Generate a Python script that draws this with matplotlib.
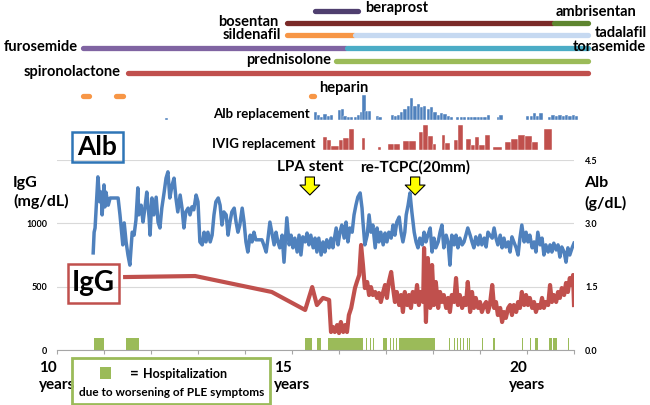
import matplotlib
matplotlib.use('Agg')
import matplotlib.pyplot as plt
import matplotlib.transforms as mtransforms
from matplotlib.patches import Rectangle

plt.rcParams['font.family'] = ['Lato', 'DejaVu Sans']
plt.rcParams['font.weight'] = 'bold'

# serum albumin (g/dL) by age (years)
alb_age = [10.77, 10.79, 10.81, 10.87, 10.91, 10.94, 10.96, 11.00, 11.02, 11.04,
           11.09, 11.13, 11.30, 11.34, 11.40, 11.43, 11.47, 11.51, 11.55, 11.60,
           11.64, 11.68, 11.72, 11.74, 11.79, 11.83, 11.87, 11.91, 11.96, 11.98,
           12.02, 12.06, 12.11, 12.15, 12.19, 12.23, 12.28, 12.32, 12.36, 12.40,
           12.45, 12.49, 12.53, 12.57, 12.62, 12.66, 12.70, 12.74, 12.79, 12.83,
           12.87, 12.91, 12.96, 13.00, 13.04, 13.09, 13.13, 13.17, 13.21, 13.26,
           13.30, 13.34, 13.38, 13.43, 13.47, 13.51, 13.55, 13.60, 13.64, 13.68,
           13.72, 13.77, 13.81, 13.85, 13.89, 13.94, 13.98, 14.02, 14.06, 14.11,
           14.15, 14.19, 14.23, 14.28, 14.36, 14.40, 14.45, 14.49, 14.53, 14.57,
           14.62, 14.66, 14.70, 14.74, 14.79, 14.83, 14.87, 14.89, 14.94, 14.98,
           15.02, 15.06, 15.11, 15.15, 15.19, 15.23, 15.28, 15.32, 15.36, 15.40,
           15.45, 15.49, 15.53, 15.57, 15.62, 15.66, 15.70, 15.74, 15.79, 15.83,
           15.87, 15.89, 15.94, 15.98, 16.02, 16.06, 16.11, 16.15, 16.19, 16.23,
           16.28, 16.32, 16.36, 16.40, 16.45, 16.49, 16.51, 16.55, 16.60, 16.64,
           16.68, 16.72, 16.77, 16.81, 16.85, 16.89, 16.94, 16.98, 17.02, 17.06,
           17.11, 17.15, 17.19, 17.23, 17.28, 17.32, 17.36, 17.40, 17.43, 17.47,
           17.51, 17.55, 17.60, 17.64, 17.68, 17.72, 17.77, 17.81, 17.85, 17.89,
           17.94, 17.98, 18.02, 18.06, 18.11, 18.15, 18.19, 18.23, 18.28, 18.32,
           18.36, 18.40, 18.45, 18.49, 18.53, 18.57, 18.62, 18.66, 18.70, 18.74,
           18.79, 18.83, 18.87, 18.91, 18.96, 19.00, 19.04, 19.09, 19.13, 19.17,
           19.21, 19.26, 19.30, 19.34, 19.38, 19.43, 19.47, 19.51, 19.55, 19.60,
           19.64, 19.68, 19.72, 19.77, 19.81, 19.85, 19.89, 19.94, 19.98, 20.02,
           20.06, 20.11, 20.15, 20.19, 20.23, 20.28, 20.32, 20.36, 20.40, 20.45,
           20.49, 20.53, 20.57, 20.62, 20.66, 20.70, 20.74, 20.79, 20.83, 20.87,
           20.91, 20.96, 21.00]
alb_val = [2.30, 2.79, 2.89, 4.10, 3.51, 3.74, 3.20, 3.91, 3.39, 3.74,
           3.43, 3.60, 3.60, 3.20, 2.49, 3.01, 2.56, 2.25, 2.01, 2.79,
           2.72, 3.08, 3.84, 3.20, 3.43, 3.03, 3.36, 3.74, 3.13, 2.72,
           3.60, 3.20, 3.62, 3.03, 2.89, 3.36, 3.74, 4.07, 4.22, 3.60,
           3.91, 4.07, 3.60, 3.27, 3.67, 3.36, 2.89, 3.27, 3.36, 3.20,
           3.39, 3.32, 3.67, 3.51, 2.56, 2.49, 2.79, 2.56, 2.79, 2.56,
           2.72, 3.20, 3.51, 3.60, 3.43, 2.96, 3.27, 3.20, 2.72, 3.03,
           3.27, 3.36, 3.03, 2.79, 2.96, 3.36, 3.03, 2.56, 2.32, 2.72,
           2.56, 2.79, 2.61, 2.61, 2.61, 2.49, 2.32, 2.65, 3.03, 2.79,
           2.49, 2.79, 2.56, 2.42, 2.72, 2.08, 2.79, 3.13, 2.49, 2.72,
           2.42, 2.65, 2.32, 2.72, 2.25, 2.68, 2.56, 2.77, 2.49, 2.72,
           2.42, 2.65, 2.32, 2.65, 2.25, 2.56, 2.32, 2.61, 2.42, 2.65,
           2.42, 2.56, 2.89, 2.49, 2.79, 2.96, 2.65, 3.03, 2.56, 2.89,
           2.79, 3.20, 3.43, 3.62, 3.72, 3.36, 3.03, 2.49, 2.72, 3.20,
           2.79, 2.96, 2.42, 2.89, 2.56, 2.79, 2.49, 2.77, 2.56, 2.79,
           2.65, 2.96, 2.72, 3.03, 3.15, 2.79, 2.56, 2.79, 3.20, 3.43,
           3.72, 3.27, 2.79, 2.56, 2.42, 2.65, 2.49, 2.79, 2.56, 2.72,
           2.89, 2.32, 2.65, 2.42, 2.56, 2.79, 2.96, 2.42, 2.72, 2.56,
           2.01, 2.72, 2.49, 2.72, 2.42, 2.65, 2.49, 2.56, 2.72, 2.89,
           2.72, 2.56, 2.42, 2.68, 2.49, 2.72, 2.49, 2.65, 2.44, 2.79,
           2.72, 2.65, 2.89, 2.65, 2.49, 2.72, 2.42, 2.65, 2.44, 2.56,
           2.32, 2.68, 2.56, 2.42, 2.25, 2.65, 2.96, 2.56, 2.79, 2.56,
           2.72, 2.42, 2.56, 2.32, 2.79, 2.49, 2.65, 2.25, 2.49, 2.32,
           2.49, 2.32, 2.53, 2.37, 2.49, 2.20, 2.44, 2.32, 2.08, 2.42,
           2.25, 2.42, 2.53]

# serum IgG (mg/dL) by age
igg_age = [11.45, 12.94, 14.57, 15.28, 15.43, 15.53, 15.66, 15.79, 15.83, 15.87,
           15.91, 15.96, 16.00, 16.04, 16.09, 16.13, 16.17, 16.21, 16.26, 16.30,
           16.34, 16.38, 16.43, 16.47, 16.51, 16.55, 16.60, 16.64, 16.68, 16.72,
           16.77, 16.81, 16.85, 16.89, 16.94, 16.98, 17.02, 17.06, 17.11, 17.15,
           17.19, 17.23, 17.28, 17.32, 17.36, 17.40, 17.45, 17.49, 17.53, 17.57,
           17.62, 17.66, 17.70, 17.74, 17.79, 17.81, 17.85, 17.89, 17.94, 17.98,
           18.02, 18.06, 18.11, 18.15, 18.19, 18.23, 18.28, 18.32, 18.36, 18.40,
           18.45, 18.49, 18.53, 18.57, 18.62, 18.66, 18.70, 18.74, 18.79, 18.83,
           18.87, 18.91, 18.96, 19.00, 19.04, 19.09, 19.13, 19.17, 19.21, 19.26,
           19.30, 19.34, 19.38, 19.43, 19.47, 19.51, 19.55, 19.60, 19.64, 19.68,
           19.72, 19.77, 19.81, 19.85, 19.89, 19.94, 19.98, 20.02, 20.06, 20.11,
           20.15, 20.19, 20.23, 20.28, 20.32, 20.36, 20.40, 20.45, 20.49, 20.53,
           20.57, 20.62, 20.66, 20.70, 20.74, 20.79, 20.83, 20.87, 20.91, 20.96,
           20.98, 21.00]
igg_val = [576, 584, 458, 316, 497, 355, 411, 395, 142, 182,
           142, 197, 134, 221, 142, 197, 142, 276, 332, 411,
           489, 537, 592, 829, 671, 489, 537, 434, 497, 434,
           458, 411, 450, 379, 458, 513, 411, 537, 616, 489,
           379, 458, 355, 434, 300, 458, 355, 434, 332, 458,
           379, 513, 355, 458, 379, 805, 221, 726, 332, 671,
           355, 537, 332, 458, 379, 434, 332, 411, 300, 434,
           379, 568, 355, 434, 332, 411, 355, 537, 300, 458,
           332, 411, 332, 379, 300, 355, 379, 300, 355, 513,
           332, 379, 276, 332, 221, 300, 253, 332, 355, 276,
           355, 300, 379, 332, 458, 355, 434, 355, 411, 332,
           379, 300, 355, 332, 411, 332, 379, 355, 513, 379,
           434, 379, 458, 411, 489, 434, 529, 458, 568, 513,
           592, 355]

# hospitalization for worsening PLE (start / end age)
hosp_start = [10.79, 11.47, 15.28, 15.53, 15.77, 16.57, 16.66, 16.72, 16.94, 17.09,
              17.15, 17.21, 17.28, 18.34, 18.45, 18.51, 18.57, 18.64, 18.72, 18.77,
              19.04, 19.28, 19.89, 20.06, 20.17, 20.47, 20.55, 20.87]
hosp_end = [11.00, 11.74, 15.43, 15.62, 16.51, 16.59, 16.68, 16.74, 17.02, 17.11,
            17.17, 17.23, 18.04, 18.36, 18.47, 18.53, 18.59, 18.66, 18.74, 18.79,
            19.06, 19.32, 19.91, 20.08, 20.23, 20.53, 20.64, 20.89]

# albumin replacement (relative amount)
albrep_age = [12.30, 15.47, 15.53, 15.60, 15.67, 15.74, 15.81, 15.97, 16.04, 16.09,
              16.16, 16.23, 16.31, 16.38, 16.45, 16.50, 16.55, 16.62, 16.78, 16.84,
              17.10, 17.16, 17.23, 17.30, 17.37, 17.44, 17.51, 17.58, 17.65, 17.72,
              17.79, 17.87, 17.94, 18.01, 18.08, 18.15, 18.22, 18.29, 18.36, 18.49,
              18.57, 18.64, 18.72, 18.79, 18.86, 18.93, 19.00, 19.07, 19.14, 19.36,
              19.41, 19.98, 20.06, 20.13, 20.19, 20.26, 20.45, 20.52, 20.60, 20.67,
              20.74, 20.81, 20.88, 20.95, 21.02]
albrep_val = [2, 8, 5, 3, 6, 4, 5, 10, 11, 4,
              3, 3, 3, 5, 8, 25, 9, 9, 4, 3,
              5, 4, 5, 8, 11, 14, 22, 14, 16, 13,
              14, 11, 13, 8, 5, 7, 6, 4, 3, 3,
              3, 3, 3, 3, 3, 3, 3, 3, 5, 3,
              5, 4, 4, 7, 4, 7, 3, 5, 4, 5,
              4, 5, 4, 5, 4]

# IVIG replacement (relative amount)
ivig_start = [15.65, 15.74, 15.83, 15.99, 16.09, 16.21, 16.48, 16.82, 17.05, 17.18,
              17.37, 17.50, 17.70, 17.79, 17.90, 17.99, 18.20, 18.26, 18.45, 18.54,
              18.70, 18.80, 18.89, 18.98, 19.11, 19.28, 19.53, 19.67, 19.81, 19.96,
              20.10, 20.37]
ivig_end = [15.74, 15.83, 15.99, 16.09, 16.21, 16.32, 16.55, 16.89, 17.18, 17.30,
            17.50, 17.64, 17.79, 17.90, 17.99, 18.06, 18.26, 18.36, 18.54, 18.64,
            18.80, 18.89, 18.98, 19.11, 19.21, 19.46, 19.67, 19.81, 19.96, 20.10,
            20.24, 20.53]
ivig_val = [13, 10, 4, 10, 12, 21, 12, 3, 6, 6,
            9, 9, 18, 25, 14, 6, 15, 7, 10, 25,
            11, 5, 13, 5, 15, 3, 8, 11, 15, 14,
            8, 21]

# medication periods
drug_names = ['beraprost', 'bosentan', 'ambrisentan', 'sildenafil', 'tadalafil',
              'furosemide', 'torasemide', 'prednisolone', 'spironolactone',
              'heparin', 'heparin', 'heparin']
drug_start = [15.50, 14.90, 20.58, 14.90, 16.34, 10.56, 16.17, 15.94, 11.52,
              10.56, 11.26, 15.41]
drug_end = [16.40, 20.55, 21.29, 16.32, 21.29, 16.15, 21.29, 21.29, 21.29,
            10.69, 11.40, 15.46]
drug_colors = ['#4F3F6F', '#7A2A28', '#5E8530', '#F79646', '#C6D9F1',
               '#8064A2', '#4BACC6', '#9BBB59', '#C0504D',
               '#F79646', '#F79646', '#F79646']
drug_rows = [11, 23, 23, 35, 35, 48, 48, 61, 73, 96, 96, 96]

# drug labels: text, x (age), row (px from top), alignment
label_text = ['beraprost', 'bosentan', 'ambrisentan', 'sildenafil', 'tadalafil',
              'furosemide', 'torasemide', 'prednisolone', 'spironolactone', 'heparin']
label_x = [16.56, 14.72, 20.60, 14.76, 21.45, 10.45, 20.98, 15.83, 11.36, 15.58]
label_y = [8, 22, 12, 35, 33, 47, 47, 60, 72, 88]
label_ha = ['left', 'right', 'left', 'right', 'left', 'right', 'left', 'right',
            'right', 'left']

event_ages = [15.38, 17.62]
event_labels = ['LPA stent', 're-TCPC(20mm)']

year_ticks = list(range(10, 22))
year_labels = [10, 15, 20]

W, H = 650, 405
def fx(px):
    return px / W
def fy(py):
    return 1 - py / H

BLUE = '#4F81BD'
RED = '#C0504D'
GREEN = '#9BBB59'

fig = plt.figure(figsize=(6.5, 4.05), dpi=100)

ax = fig.add_axes([fx(57), fy(350), fx(574) - fx(57), (350 - 160) / H])
ax2 = ax.twinx()

for s, e in zip(hosp_start, hosp_end):
    ax.axvspan(s, e, ymin=0, ymax=12 / 190, color=GREEN, lw=0, zorder=1)

ax.plot(igg_age, igg_val, color=RED, lw=3.0, solid_joinstyle='round', zorder=3)
ax2.plot(alb_age, alb_val, color=BLUE, lw=2.5, solid_joinstyle='round')

ax.set_xlim(10, 21)
ax.set_ylim(0, 1500)
ax2.set_ylim(0, 4.5)
ax.set_yticks([0, 500, 1000, 1500])
ax.set_yticklabels(['0', '500', '1000', ''])
ax2.set_yticks([0, 1.5, 3.0, 4.5])
ax2.set_yticklabels(['0.0', '1.5', '3.0', '4.5'])
ax.yaxis.grid(True, color='#D9D9D9', lw=0.8)
ax.set_axisbelow(True)
ax.tick_params(axis='y', length=0, pad=7, labelsize=6.5)
ax2.tick_params(axis='y', length=0, pad=8, labelsize=6.5)
ax.set_xticks(year_ticks)
ax.set_xticklabels([])
ax.tick_params(axis='x', length=3, color='#A6A6A6', direction='out')
for a in (ax, ax2):
    for side in ('top', 'left', 'right'):
        a.spines[side].set_visible(False)
ax.spines['bottom'].set_color('#A6A6A6')
ax2.spines['bottom'].set_visible(False)

trans = mtransforms.blended_transform_factory(ax.transData, fig.transFigure)

# medication bars
for s, e, c, r in zip(drug_start, drug_end, drug_colors, drug_rows):
    ax.plot([s, e], [fy(r), fy(r)], transform=trans, color=c, lw=3.8,
            solid_capstyle='round', clip_on=False, zorder=2)
for t, x, y, ha in zip(label_text, label_x, label_y, label_ha):
    ax.text(x, fy(y), t, transform=trans, ha=ha, va='center', fontsize=10.5,
            zorder=5)

# replacement bar charts
axa = fig.add_axes([fx(57), fy(119.5), fx(574) - fx(57), 26 / H], sharex=ax)
axa.bar(albrep_age, albrep_val, width=0.07, align='edge', color=BLUE,
        edgecolor='white', lw=0.3, clip_on=False)
axa.set_ylim(0, 26)
axa.axis('off')
axi = fig.add_axes([fx(57), fy(150), fx(574) - fx(57), 27 / H], sharex=ax)
axi.bar(ivig_start, ivig_val, width=[e - s for s, e in zip(ivig_start, ivig_end)],
        align='edge', color=RED, edgecolor='white', lw=0.3, clip_on=False)
axi.set_ylim(0, 27)
axi.axis('off')
ax.set_xlim(10, 21)

ax.text(15.38, fy(114), 'Alb replacement', transform=trans, ha='right',
        va='center', fontsize=9.5)
ax.text(15.49, fy(144), 'IVIG replacement', transform=trans, ha='right',
        va='center', fontsize=9.5)

# events
for a, t in zip(event_ages, event_labels):
    ax.text(a, fy(167), t, transform=trans, ha='center', va='center', fontsize=11)
    ax.annotate('', xy=(a, fy(195)), xytext=(a, fy(177)), xycoords=trans,
                textcoords=trans, annotation_clip=False,
                arrowprops=dict(arrowstyle='simple,head_width=1.3,head_length=0.65,tail_width=0.6',
                                mutation_scale=11, fc='#FFFF00', ec='black',
                                lw=0.8, shrinkA=0, shrinkB=0))

# axis titles
fig.text(fx(13), fy(183), 'IgG', ha='left', va='center', fontsize=11.5)
fig.text(fx(13), fy(201), '(mg/dL)', ha='left', va='center', fontsize=11.5)
fig.text(fx(584), fy(183), 'Alb', ha='left', va='center', fontsize=11.5)
fig.text(fx(584), fy(203), '(g/dL)', ha='left', va='center', fontsize=11.5)

# boxed series names
fig.patches.append(Rectangle((fx(72), fy(162)), 51 / W, 30 / H,
                             transform=fig.transFigure, fill=False,
                             ec='#2E75B6', lw=1.8))
fig.text(fx(97.5), fy(147), 'Alb', ha='center', va='center', fontsize=19)
fig.patches.append(Rectangle((fx(68), fy(303)), 51 / W, 39 / H,
                             transform=fig.transFigure, fill=False,
                             ec=RED, lw=1.8))
fig.text(fx(93.5), fy(283), 'IgG', ha='center', va='center', fontsize=20)

# year labels
for yr in year_labels:
    ax.text(yr, fy(361), f'{yr}\nyears', transform=trans, ha='center', va='top',
            multialignment='left', fontsize=11, linespacing=1.25)

# legend
fig.patches.append(Rectangle((fx(72), fy(404)), 198 / W, 46 / H,
                             transform=fig.transFigure, fill=False,
                             ec=GREEN, lw=2))
fig.patches.append(Rectangle((fx(100), fy(379)), 11 / W, 12 / H,
                             transform=fig.transFigure, color=GREEN, lw=0))
fig.text(fx(130), fy(374), '=', ha='left', va='center', fontsize=11)
fig.text(fx(143), fy(374), 'Hospitalization', ha='left', va='center', fontsize=9)
fig.text(fx(172), fy(392), 'due to worsening of PLE symptoms', ha='center',
         va='center', fontsize=8.5)

fig.savefig('out.png', dpi=100)
